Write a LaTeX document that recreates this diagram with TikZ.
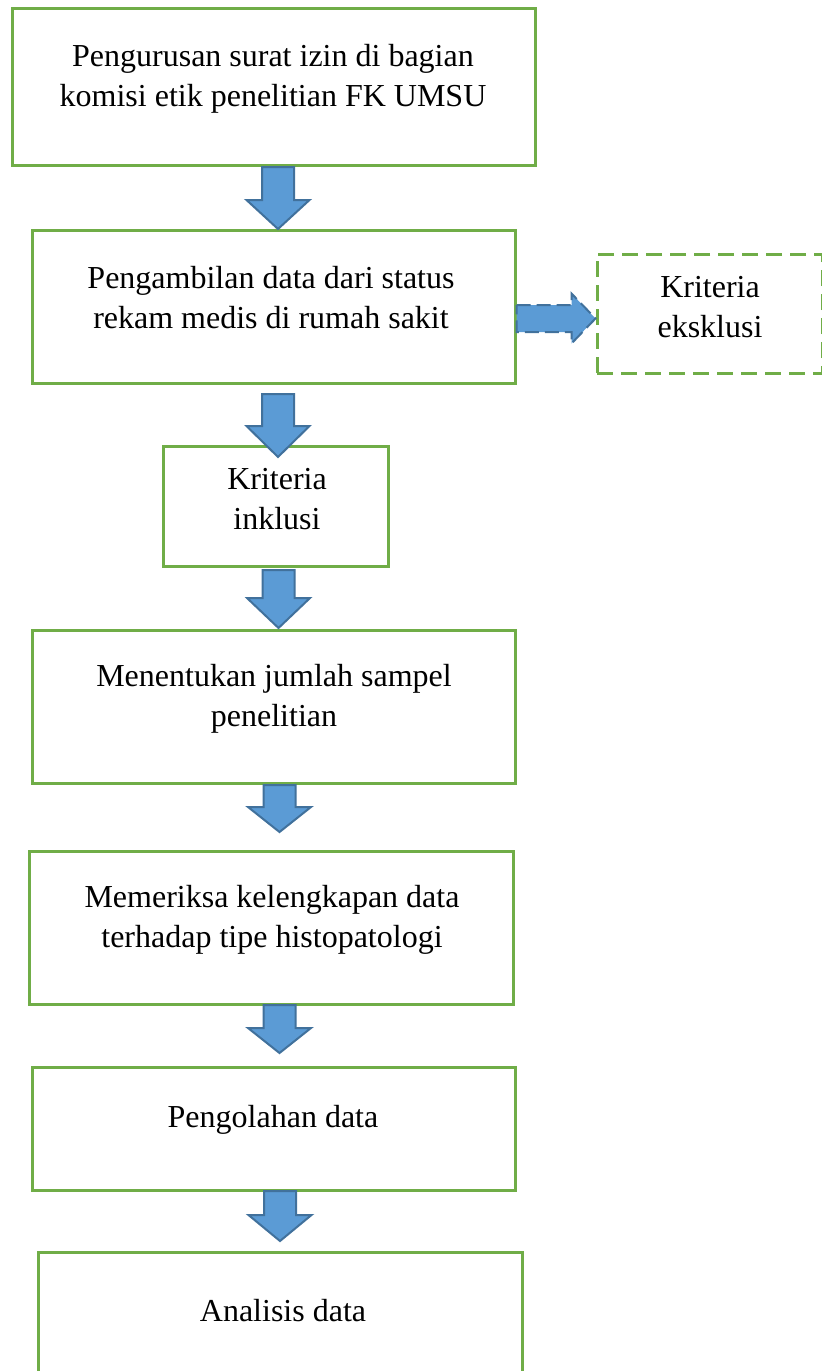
\documentclass[tikz,border=0pt]{standalone}
\usepackage{fontspec}
\setmainfont{Liberation Serif}
\usepackage{xcolor}
\usepackage{tikz}
\usetikzlibrary{calc}

\definecolor{hijau}{HTML}{70AD47}
\definecolor{biru}{HTML}{5B9BD5}
\definecolor{birutua}{HTML}{41719C}

\tikzset{
  kotak/.style={draw=hijau, line width=3pt, shape=rectangle, inner sep=0pt},
  kotakputus/.style={kotak, dash pattern=on 16pt off 8pt},
  teks/.style={text=black, align=center, inner sep=0pt, font=\fontsize{32}{40}\selectfont},
  panah/.style={fill=biru, draw=birutua, line width=2pt, line join=miter},
  panahputus/.style={panah, dash pattern=on 14pt off 6pt}
}

% panah blok ke bawah: pangkal, ujung, panjang kepala
\newcommand{\panahturun}[3]{%
  \draw[panah] ($(#1)+(-16,0)$) -- ($(#2)+(-16,-#3)$) -- ($(#2)+(-31.5,-#3)$) -- (#2)
    -- ($(#2)+(31.5,-#3)$) -- ($(#2)+(16,-#3)$) -- ($(#1)+(16,0)$) -- cycle;}

\begin{document}
\begin{tikzpicture}[x=1pt, y=-1pt]
                    \clip (0,0) rectangle (822,1371);
                    \fill[white] (0,0) rectangle (822,1371);

                    \node[kotak, minimum width=523pt, minimum height=157pt] (K1) at (273.5,86.5) {};
                    \node[kotak, minimum width=483pt, minimum height=153pt] (K2) at (273.5,306.5) {};
                    \node[kotakputus, minimum width=225pt, minimum height=119pt] (KE) at (709.5,313.5) {};
                    \node[kotak, minimum width=225pt, minimum height=120pt] (K3) at (275.5,506) {};
                    \node[kotak, minimum width=483pt, minimum height=153pt] (K4) at (273.5,706.5) {};
                    \node[kotak, minimum width=484pt, minimum height=153pt] (K5) at (271,927.5) {};
                    \node[kotak, minimum width=483pt, minimum height=123pt] (K6) at (273.5,1128.5) {};
                    \node[kotak, minimum width=484pt, minimum height=200pt] (K7) at (280,1352) {};

                    \node[teks] (T1) at (273,78.5) {Pengurusan surat izin di bagian\\komisi etik penelitian FK UMSU};
                    \node[teks] (T2) at (271,298) {Pengambilan data dari status\\rekam medis di rumah sakit};
                    \node[teks] (TE) at (710,307) {Kriteria\\eksklusi};
                    \node[teks] (T3) at (277,499.5) {Kriteria\\inklusi};
                    \node[teks] (T4) at (274,698.5) {Menentukan jumlah sampel\\penelitian};
                    \node[teks] (T5) at (272,920) {Memeriksa kelengkapan data\\terhadap tipe histopatologi};
                    \node[teks] (T6) at (273,1120) {Pengolahan data};
                    \node[teks] (T7) at (283,1311) {Analisis data};

                    \coordinate (A1s) at (278,167);   \coordinate (A1e) at (278,229);
                    \coordinate (A2s) at (278,394);   \coordinate (A2e) at (278,457);
                    \coordinate (A3s) at (278.5,570); \coordinate (A3e) at (278.5,628);
                    \coordinate (A4s) at (279.5,785); \coordinate (A4e) at (279.5,832);
                    \coordinate (A5s) at (279.5,1005);\coordinate (A5e) at (279.5,1053);
                    \coordinate (A6s) at (280,1191);  \coordinate (A6e) at (280,1241);
                    \coordinate (AEs) at (K2.east |- 0,318.5);
                    \coordinate (AEe) at (KE.west |- 0,318.5);

                    \panahturun{A1s}{A1e}{29}
                    \panahturun{A2s}{A2e}{31}
                    \panahturun{A3s}{A3e}{30}
                    \panahturun{A4s}{A4e}{25}
                    \panahturun{A5s}{A5e}{25}
                    \panahturun{A6s}{A6e}{26}

                    \draw[panahputus] ($(AEs)+(0,-13.5)$) -- ($(AEe)+(-24,-13.5)$) -- ($(AEe)+(-24,-25)$) -- (AEe)
                      -- ($(AEe)+(-24,25)$) -- ($(AEe)+(-24,13.5)$) -- ($(AEs)+(0,13.5)$) -- cycle;
                \end{tikzpicture}
\end{document}
